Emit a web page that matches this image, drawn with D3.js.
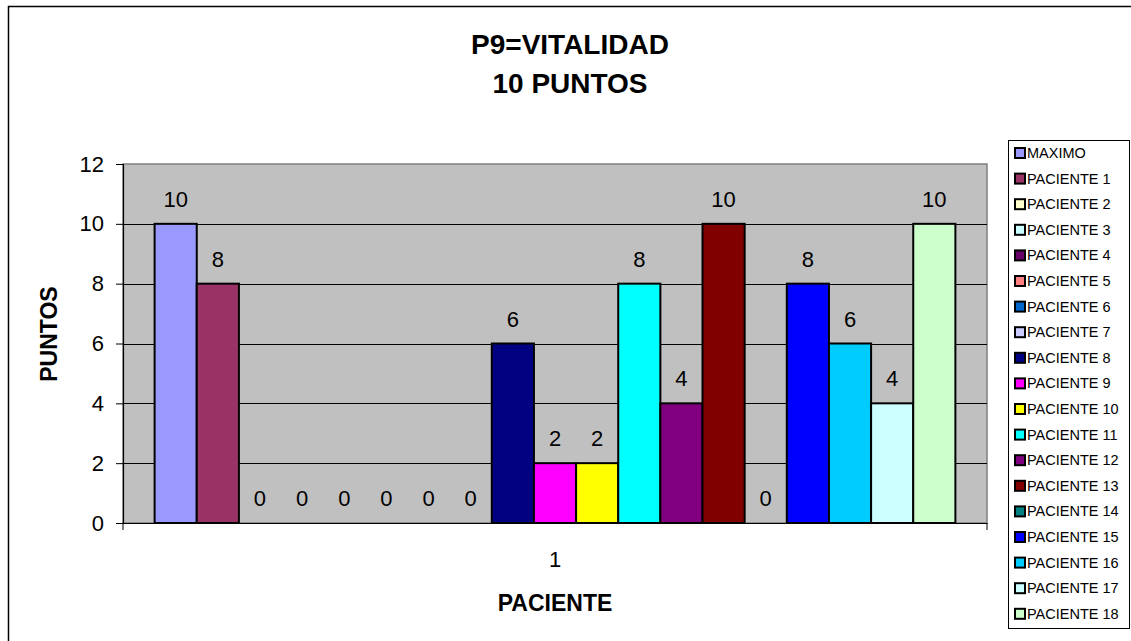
<!DOCTYPE html>
<html>
<head>
<meta charset="utf-8">
<script src="https://cdn.jsdelivr.net/npm/d3@7/dist/d3.min.js"></script>
<style>
  html, body { margin: 0; padding: 0; background: #fff; }
  svg { display: block; font-family: Arial, "Liberation Sans", sans-serif; }
</style>
</head>
<body>
<svg id="chart" width="1131" height="641"></svg>
<script>
const categories = ["1"];
const seriesNames = ["MAXIMO", "PACIENTE 1", "PACIENTE 2", "PACIENTE 3", "PACIENTE 4", "PACIENTE 5",
  "PACIENTE 6", "PACIENTE 7", "PACIENTE 8", "PACIENTE 9", "PACIENTE 10", "PACIENTE 11",
  "PACIENTE 12", "PACIENTE 13", "PACIENTE 14", "PACIENTE 15", "PACIENTE 16", "PACIENTE 17", "PACIENTE 18"];
const seriesValues = [10, 8, 0, 0, 0, 0, 0, 0, 6, 2, 2, 8, 4, 10, 0, 8, 6, 4, 10];
const seriesColors = ["#9999FF", "#993366", "#FFFFCC", "#CCFFFF", "#660066", "#FF8080",
  "#0066CC", "#CCCCFF", "#000080", "#FF00FF", "#FFFF00", "#00FFFF",
  "#800080", "#800000", "#008080", "#0000FF", "#00CCFF", "#CCFFFF", "#CCFFCC"];
const yTicks = [0, 2, 4, 6, 8, 10, 12];
const titleLines = ["P9=VITALIDAD", "10 PUNTOS"];
const xTitle = "PACIENTE";
const yTitle = "PUNTOS";

const svg = d3.select("#chart");
const plot = { left: 123, right: 987, top: 164, bottom: 523 };

// outer border
svg.append("rect").attr("x", 8.5).attr("y", 6.5).attr("width", 1140).attr("height", 650)
  .attr("fill", "#fff").attr("stroke", "#000").attr("stroke-width", 1.5);

// title
svg.append("text").attr("x", 570).attr("y", 54).attr("text-anchor", "middle")
  .attr("font-weight", "bold").attr("font-size", 28).text(titleLines[0]);
svg.append("text").attr("x", 570).attr("y", 93).attr("text-anchor", "middle")
  .attr("font-weight", "bold").attr("font-size", 28).text(titleLines[1]);

const y = d3.scaleLinear().domain([0, 12]).range([plot.bottom, plot.top]);
const x0 = d3.scaleBand().domain(categories).range([plot.left, plot.right]);
const x1 = d3.scaleBand().domain(seriesNames).range([0, x0.bandwidth()])
  .paddingInner(0).paddingOuter(0.75);

// plot area
svg.append("rect").attr("x", plot.left).attr("y", plot.top)
  .attr("width", plot.right - plot.left).attr("height", plot.bottom - plot.top)
  .attr("fill", "#C0C0C0").attr("stroke", "#808080").attr("stroke-width", 1.5);

// gridlines
svg.append("g").selectAll("line").data(yTicks.filter(d => d > 0 && d < 12)).join("line")
  .attr("x1", plot.left).attr("x2", plot.right)
  .attr("y1", d => Math.round(y(d)) + 0.5).attr("y2", d => Math.round(y(d)) + 0.5)
  .attr("stroke", "#000").attr("stroke-width", 1);

// y axis
const yAxis = svg.append("g").attr("transform", `translate(${plot.left},0)`)
  .call(d3.axisLeft(y).tickValues(yTicks).tickSize(7).tickPadding(12).tickFormat(d3.format("d")));
yAxis.select(".domain").attr("stroke", "#000").attr("stroke-width", 1.2);
yAxis.selectAll(".tick line").attr("stroke", "#000");
yAxis.selectAll(".tick text").attr("font-size", 22).attr("fill", "#000")
  .attr("font-family", "Arial, 'Liberation Sans', sans-serif");

// bars
const g = svg.append("g");
categories.forEach((cat) => {
  const data = seriesNames.map((n, i) => ({ name: n, value: seriesValues[i], color: seriesColors[i] }));
  g.selectAll("rect.bar").data(data.filter(d => d.value > 0)).join("rect")
    .attr("class", "bar")
    .attr("x", d => x0(cat) + x1(d.name))
    .attr("y", d => y(d.value))
    .attr("width", x1.bandwidth())
    .attr("height", d => y(0) - y(d.value))
    .attr("fill", d => d.color)
    .attr("stroke", "#000").attr("stroke-width", 2);
  g.selectAll("text.lbl").data(data).join("text")
    .attr("class", "lbl")
    .attr("x", d => x0(cat) + x1(d.name) + x1.bandwidth() / 2)
    .attr("y", d => y(d.value) - 17)
    .attr("text-anchor", "middle").attr("font-size", 22).attr("fill", "#000")
    .text(d => d.value);
});

// x axis
const xAxis = svg.append("g").attr("transform", `translate(0,${plot.bottom})`)
  .call(d3.axisBottom(x0).tickSize(0).tickPadding(28));
xAxis.select(".domain").attr("stroke", "#000").attr("stroke-width", 1.2);
xAxis.selectAll(".tick text").attr("font-size", 22).attr("fill", "#000")
  .attr("font-family", "Arial, 'Liberation Sans', sans-serif");
// boundary tick marks
svg.append("g").selectAll("line").data(x0.range()).join("line")
  .attr("x1", d => d).attr("x2", d => d).attr("y1", plot.bottom).attr("y2", plot.bottom + 7)
  .attr("stroke", "#000").attr("stroke-width", 1);

// axis titles
svg.append("text").attr("x", (plot.left + plot.right) / 2).attr("y", 611)
  .attr("text-anchor", "middle").attr("font-weight", "bold").attr("font-size", 23).text(xTitle);
svg.append("text").attr("transform", "translate(57,334) rotate(-90)")
  .attr("text-anchor", "middle").attr("font-weight", "bold").attr("font-size", 23).text(yTitle);

// legend
const legend = svg.append("g");
legend.append("rect").attr("x", 1008.5).attr("y", 140.5).attr("width", 121).attr("height", 488)
  .attr("fill", "#fff").attr("stroke", "#000").attr("stroke-width", 1);
const items = legend.selectAll("g.item").data(seriesNames).join("g").attr("class", "item")
  .attr("transform", (d, i) => `translate(1014, ${153 + 25.6 * i})`);
items.append("rect").attr("x", 1).attr("y", -5).attr("width", 10).attr("height", 10)
  .attr("fill", (d, i) => seriesColors[i]).attr("stroke", "#000").attr("stroke-width", 2);
items.append("text").attr("x", 13).attr("y", 5).attr("font-size", 14.5).attr("fill", "#000").text(d => d);
</script>
</body>
</html>
